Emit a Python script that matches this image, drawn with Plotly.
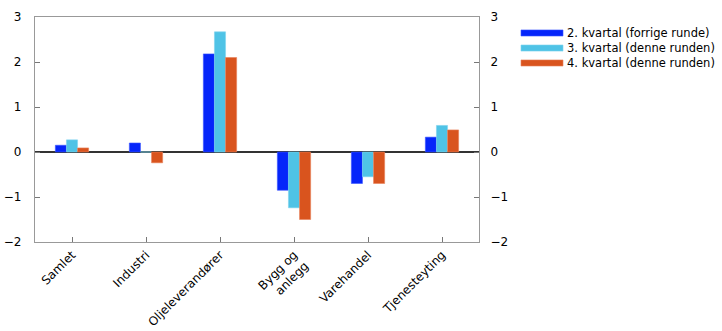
import plotly.graph_objects as go

categories = ["Samlet", "Industri", "Oljeleverandører", "Bygg og<br>anlegg", "Varehandel", "Tjenesteyting"]
series_names = ["2. kvartal (forrige runde)", "3. kvartal (denne runden)", "4. kvartal (denne runden)"]
q2_prev = [0.15, 0.20, 2.18, -0.85, -0.70, 0.33]
q3_now = [0.27, 0.00, 2.67, -1.24, -0.55, 0.59]
q4_now = [0.09, -0.24, 2.10, -1.50, -0.70, 0.49]
colors = ["#0525fa", "#4fc3e6", "#d9541e"]
edge_colors = ["#3a55ff", "#7dd3ee", "#e8815a"]
y_ticks = [-2, -1, 0, 1, 2, 3]

fig = go.Figure()
for name, vals, c, ec in zip(series_names, [q2_prev, q3_now, q4_now], colors, edge_colors):
    fig.add_trace(go.Bar(x=categories, y=vals, name=name,
                         marker=dict(color=c, line=dict(color=ec, width=0.6)),
                         showlegend=False))
fig.add_trace(go.Scatter(x=[categories[0]], y=[None], yaxis="y2", showlegend=False, hoverinfo="skip"))

font = dict(family="DejaVu Sans, Liberation Sans, Arial, sans-serif", size=12, color="#000")
leg_font = dict(family="DejaVu Sans, Liberation Sans, Arial, sans-serif", size=11.5, color="#000")

# Manual legend (wide swatches like the reference)
leg_x0, leg_x1, leg_tx = 1.0946, 1.1892, 1.1937
leg_rows = [0.929, 0.862, 0.7956]
half_h = 0.0135
for name, c, ec, yy in zip(series_names, colors, edge_colors, leg_rows):
    fig.add_shape(type="rect", xref="paper", yref="paper", x0=leg_x0, x1=leg_x1,
                  y0=yy - half_h, y1=yy + half_h, fillcolor=c, line=dict(color=ec, width=0.6))
    fig.add_annotation(xref="paper", yref="paper", x=leg_tx, y=yy, text=name, showarrow=False,
                       xanchor="left", yanchor="middle", font=leg_font)

fig.update_layout(
    width=722, height=331,
    margin=dict(l=35, r=243, t=17, b=89, autoexpand=False),
    paper_bgcolor="white", plot_bgcolor="white",
    font=font, showlegend=False,
    barmode="group", bargap=0.55, bargroupgap=0,
    xaxis=dict(showline=True, linecolor="#999", linewidth=1.3, mirror=True, automargin=False,
               ticks="inside", ticklen=5, tickcolor="#777", tickangle=-45,
               showgrid=False, zeroline=False, tickfont=font),
    yaxis=dict(range=[-2, 3], tickvals=y_ticks, showline=True, linecolor="#999", linewidth=1.3,
               ticks="inside", ticklen=5, tickcolor="#777", showgrid=False, ticklabelstandoff=10,
               automargin=False,
               zeroline=True, zerolinecolor="#333", zerolinewidth=1.5, tickfont=font),
    yaxis2=dict(range=[-2, 3], tickvals=y_ticks, overlaying="y", side="right", showline=True,
                linecolor="#999", linewidth=1.3, ticks="inside", ticklen=5, tickcolor="#777",
                automargin=False,
                showgrid=False, zeroline=False, tickfont=font, ticklabelstandoff=8),
)
fig.write_html("out.html")
